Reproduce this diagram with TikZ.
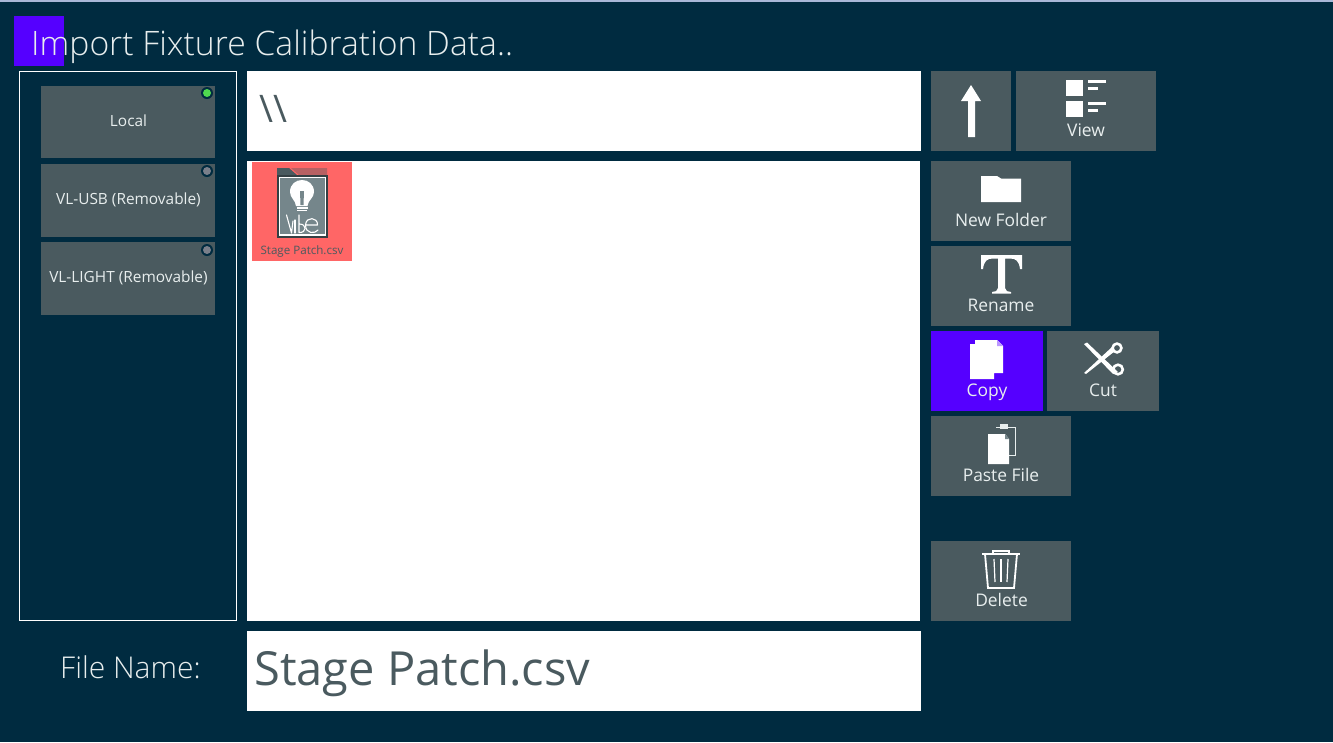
\documentclass[tikz,border=0pt]{standalone}
\usepackage{fontspec}
\setmainfont{Open Sans}
\newfontfamily\lightfont{Open Sans Light}
\definecolor{bgc}{HTML}{002B40}
\definecolor{btnc}{HTML}{4A5A5F}
\definecolor{purp}{HTML}{5500FF}
\definecolor{redc}{HTML}{FF6666}
\definecolor{iconc}{HTML}{75868B}
\definecolor{txtc}{HTML}{E8EEEE}
\definecolor{topc}{HTML}{A9B8D8}
\definecolor{ledon}{HTML}{4FD94F}
\definecolor{ledoff}{HTML}{7A7F8A}
\tikzset{
 btn/.style={fill=btnc,draw=none,inner sep=0pt,outer sep=0pt},
 lbl/.style={text=txtc,font=\fontsize{15.4}{18}\selectfont,inner sep=0pt,anchor=center},
 btnlbl/.style={text=txtc,font=\fontsize{17.4}{20}\selectfont,inner sep=0pt,anchor=center},
 wbox/.style={fill=white,draw=none},
 ledring/.style={fill=bgc,draw=none},
 glyph/.style={fill=white,draw=none},
 gline/.style={draw=white,line width=1.8pt},
 vibe/.style={draw=white,line width=1.1pt,line cap=round,line join=round},
}
\begin{document}
\begin{tikzpicture}[x=1pt,y=-1pt]
\useasboundingbox (0,0) rectangle (1333,742);
\fill[bgc] (0,0) rectangle (1333,742);
\draw[color=topc,line width=1.5pt] (0,0.8) -- (1333,0.8);
% title
\fill[purp] (14,16) rectangle (64,66);
\node[anchor=base west,inner sep=0pt,text=txtc,font=\lightfont\fontsize{33.7}{38}\selectfont] (title) at (31,55) {Import Fixture Calibration Data..};
% drive panel
\draw[white,line width=1pt] (19.5,71.5) rectangle (236.5,620.5);
\foreach \n/\a/\b/\t/\o in {d1/86/158/Local/-1.5,d2/164/237/VL-USB (Removable)/-1,d3/242/315/VL-LIGHT (Removable)/-0.5}{
 \fill[btn] (41,\a) rectangle (215,\b);
 \node[lbl] (\n) at (128.5,{(\a+\b)/2+\o}) {\t};
}
\fill[ledring] (207,93) circle (6); \fill[ledon] (207,93) circle (4);
\fill[ledring] (207,171) circle (6); \fill[ledoff] (207,171) circle (4);
\fill[ledring] (207,250) circle (6); \fill[ledoff] (207,250) circle (4);
% white boxes
\fill[wbox] (247,71) rectangle (921,151);
\fill[wbox] (247,161) rectangle (920,621);
\fill[wbox] (247,631) rectangle (921,711);
\node[anchor=base west,inner sep=0pt,text=btnc,font=\fontsize{38}{40}\selectfont] (path) at (259,122) {\textbackslash\textbackslash};
\node[anchor=base west,inner sep=0pt,text=btnc,font=\fontsize{47}{52}\selectfont] (fname) at (254,685) {Stage Patch.csv};
\node[anchor=base west,inner sep=0pt,text=txtc,font=\lightfont\fontsize{30}{32}\selectfont] (fnlabel) at (60,678) {File Name:};
% file icon
\fill[redc] (252,162) rectangle (352,261);
\fill[btnc] (277,168) -- (289,168) -- (297,175) -- (277,175) -- cycle;
\fill[redc!60!btnc] (291,168) -- (327,168) -- (327,175) -- (299,175) -- cycle;
\fill[btnc!70!black] (277,175) rectangle (327.5,237.5);
\fill[white] (278.5,176.5) rectangle (326,236);
\fill[iconc] (280,178) rectangle (324.5,234);
\fill[white] (290,192) .. controls (290,176) and (314,176) .. (314,192) .. controls (314,198) and (308,200) .. (307.5,206) -- (296,206) .. controls (295.5,200) and (290,198) .. (290,192) -- cycle;
\fill[iconc] (300,191) -- (304,191) -- (303.5,205) -- (300.5,205) -- cycle;
\fill[white] (296.5,207) rectangle (307.5,208.5);
\fill[white] (297,209.5) rectangle (307,211);
\draw[vibe] (286.5,215) -- (291.5,233) -- (293,221);
\draw[vibe] (295,220) -- (295,233);
\draw[vibe] (299,215) -- (299,232.5) .. controls (307,233) and (307,224) .. (299.5,224);
\draw[vibe] (306,225) -- (317.5,225) .. controls (318,217) and (306,216) .. (305.5,225) .. controls (305.5,234) and (315,234) .. (318,230);
\node[inner sep=0pt,text=btnc,font=\fontsize{11.6}{14}\selectfont] (fileico) at (302,251.5) {Stage Patch.csv};
% right buttons
\fill[btn] (931,71) rectangle (1011,151);
\fill[btn] (1016,71) rectangle (1156,151);
\fill[btn] (931,161) rectangle (1071,241);
\fill[btn] (931,246) rectangle (1071,326);
\fill[purp] (931,331) rectangle (1043,411);
\fill[btn] (1047,331) rectangle (1159,411);
\fill[btn] (931,416) rectangle (1071,496);
\fill[btn] (931,541) rectangle (1071,621);
% up
\fill[glyph] (971,85) -- (981,101) -- (975,101) -- (975,137) -- (968,137) -- (968,101) -- (961,101) -- cycle;
% view
\fill[glyph] (1066,80) rectangle (1083,95.5);
\fill[glyph] (1066,101) rectangle (1083,117);
\fill[glyph] (1088,80) rectangle (1106,83);
\fill[glyph] (1088,87) rectangle (1098,90);
\fill[glyph] (1088,101.5) rectangle (1106,104.5);
\fill[glyph] (1088,108.5) rectangle (1098,111.5);
\node[btnlbl] (view) at (1086,130) {View};
% new folder
\fill[glyph] (981,176) -- (997,176) -- (1001,178.5) -- (1021,178.5) -- (1021,202) -- (981,202) -- cycle;
\node[btnlbl] (newf) at (1001,220) {New Folder};
% rename
\fill[glyph] (981,255) -- (1022,255) -- (1022,269) -- (1020,269) .. controls (1019,261) and (1016,258.5) .. (1010,258.5) -- (1005,258.5) -- (1005,288) .. controls (1005,291) and (1008,292) .. (1011,292) -- (1011,293.5) -- (992,293.5) -- (992,292) .. controls (995,292) and (998,291) .. (998,288) -- (998,258.5) -- (993,258.5) .. controls (987,258.5) and (984,261) .. (983,269) -- (981,269) -- cycle;
\node[btnlbl] (ren) at (1001,305) {Rename};
% copy
\fill[glyph] (970,344) -- (975,344) -- (975,340) -- (997,340) -- (1003,346) -- (1003,373) -- (994,373) -- (994,379) -- (970,379) -- cycle;
\fill[purp!40!white] (997,340) -- (1003,346) -- (997,346) -- cycle;
\node[btnlbl] (copy) at (987,390) {\raisebox{0pt}[\height][0pt]{Copy}};
% cut
\fill[glyph] (1084,344) -- (1087,342.5) -- (1118,372) -- (1113,374) -- cycle;
\fill[glyph] (1084,373) -- (1086,374) -- (1115,351) -- (1112,347) -- cycle;
\draw[gline,line width=2.6pt] (1117,348) circle (4.4);
\draw[gline,line width=2.6pt] (1118,369.5) circle (4.8);
\node[btnlbl] (cut) at (1103,390) {Cut};
% paste
\draw[draw=txtc,line width=1pt] (996,427) -- (1015.5,427) -- (1015.5,455) -- (1009,455);
\fill[txtc] (1000,424) rectangle (1008,429);
\fill[glyph] (988,434) -- (1005,434) -- (1009,439) -- (1009,464) -- (988,464) -- cycle;
\fill[iconc] (1005,434) -- (1009,439) -- (1005,439) -- cycle;
\node[btnlbl] (paste) at (1001,475) {Paste File};
% delete
\draw[gline] (982,554) -- (1020,554);
\draw[gline] (993,554) -- (993,551) -- (1009,551) -- (1009,554);
\draw[gline] (985,554) -- (988,588) -- (1014,588) -- (1017,554);
\draw[gline,line width=1.2pt] (994,559) -- (995,582);
\draw[gline,line width=1.2pt] (1001,559) -- (1001,582);
\draw[gline,line width=1.2pt] (1008,559) -- (1007,582);
\node[btnlbl] (del) at (1001.5,600) {Delete};
\end{tikzpicture}
\end{document}
